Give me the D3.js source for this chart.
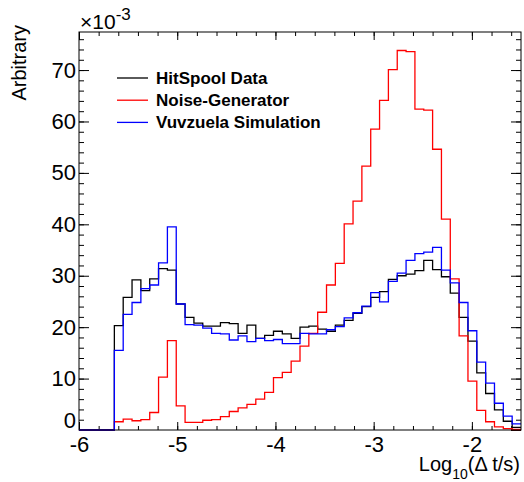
<!DOCTYPE html>
<html>
<head>
<meta charset="utf-8">
<script src="https://cdn.jsdelivr.net/npm/d3@7"></script>
<style>
  body { margin: 0; background: #fff; }
  text { font-family: "Liberation Sans", Arial, Helvetica, sans-serif; }
</style>
</head>
<body>
<script>
// 50 equal bins in log10(dt/s), from -6 to -1.5
const binLow = -6;
const binHigh = -1.5;
const nBins = 50;

// bin contents, in units of 1e-3
const hitspool = [0, 0, 0, 0, 20.3, 25.8, 29.2, 27.1, 29.4, 31.4,
  31.1, 24.5, 21.9, 20.8, 20.2, 20.2, 20.9, 20.7, 18.8, 20.4,
  17.8, 18.4, 19.2, 18.7, 17.8, 20.0, 20.2, 19.6, 19.2, 20.4,
  21.3, 22.7, 24.0, 25.8, 26.9, 29.3, 30.0, 30.3, 31.0, 33.0,
  31.2, 29.8, 26.6, 21.9, 17.3, 11.1, 7.1, 3.9, 1.7, 0.5];

const noiseGen = [0, 0, 0, 0, 1.6, 2.1, 1.8, 2.0, 3.4, 10.3,
  17.4, 4.7, 1.5, 1.5, 1.9, 2.0, 2.6, 3.6, 4.3, 5.0,
  6.0, 7.3, 10.2, 11.2, 13.4, 16.3, 18.8, 22.9, 28.2, 32.4,
  40.1, 44.5, 51.3, 58.5, 64.1, 70.1, 73.8, 73.6, 62.4, 62.2,
  54.6, 41.0, 29.4, 18.3, 9.5, 3.8, 1.6, 0.6, 0.25, 0.1];

const vuvzuela = [0, 0, 0, 0, 15.5, 22.5, 24.8, 27.5, 28.2, 32.5,
  39.5, 24.5, 20.5, 20.4, 19.8, 18.8, 18.7, 17.5, 18.3, 17.2,
  17.8, 17.4, 17.6, 16.8, 16.8, 18.8, 18.7, 18.7, 19.5, 20.1,
  21.8, 22.8, 24.1, 26.7, 24.9, 28.9, 30.5, 33.0, 34.3, 34.6,
  35.5, 31.1, 28.6, 24.8, 19.3, 13.2, 9.1, 5.2, 2.7, 1.2];

const seriesNames = ["HitSpool Data", "Noise-Generator", "Vuvzuela Simulation"];
const seriesColors = ["#000000", "#ff0000", "#0000ff"];

const xMajor = [-6, -5, -4, -3, -2];
const yMajor = [0, 10, 20, 30, 40, 50, 60, 70];

const width = 524, height = 482;
const marginLeft = 79, frameRight = 521, marginTop = 32, frameBottom = 430;
const yMax = 77.4;

const svg = d3.select("body").append("svg")
    .attr("width", width)
    .attr("height", height);

const x = d3.scaleLinear([binLow, binHigh], [marginLeft, frameRight]);
const y = d3.scaleLinear([0, yMax], [frameBottom, marginTop]);

const binWidth = (binHigh - binLow) / nBins;
const edges = d3.range(nBins + 1).map(i => binLow + i * binWidth);
const xMinor = d3.range(0, 23).map(i => binLow + i * 0.2);
const yMinor = d3.range(0, 39).map(i => i * 2);

// axes (ticks point inward, ROOT style)
function clean(g) { g.select(".domain").remove(); g.selectAll("line").attr("stroke", "#000"); }

svg.append("g").attr("transform", `translate(0,${frameBottom})`)
    .call(d3.axisBottom(x).tickValues(xMinor).tickSize(-4).tickFormat(""))
    .call(clean);
svg.append("g").attr("transform", `translate(0,${frameBottom})`)
    .call(d3.axisBottom(x).tickValues(xMajor).tickSize(-8).tickPadding(6).tickFormat(d => String(d)))
    .call(clean)
    .call(g => g.selectAll("text").attr("font-size", 22).attr("fill", "#000").attr("font-family", null));
svg.append("g").attr("transform", `translate(0,${marginTop})`)
    .call(d3.axisTop(x).tickValues(xMinor).tickSize(-4).tickFormat(""))
    .call(clean);
svg.append("g").attr("transform", `translate(0,${marginTop})`)
    .call(d3.axisTop(x).tickValues(xMajor).tickSize(-8).tickFormat(""))
    .call(clean);

svg.append("g").attr("transform", `translate(${marginLeft},0)`)
    .call(d3.axisLeft(y).tickValues(yMinor).tickSize(-5).tickFormat(""))
    .call(clean);
svg.append("g").attr("transform", `translate(${marginLeft},0)`)
    .call(d3.axisLeft(y).tickValues(yMajor).tickSize(-10).tickPadding(3).tickFormat(d => String(d)))
    .call(clean)
    .call(g => g.selectAll("text").attr("font-size", 22).attr("fill", "#000").attr("font-family", null)
        .filter(d => d === 0).attr("dy", "-0.12em"));
svg.append("g").attr("transform", `translate(${frameRight},0)`)
    .call(d3.axisRight(y).tickValues(yMinor).tickSize(-5).tickFormat(""))
    .call(clean);
svg.append("g").attr("transform", `translate(${frameRight},0)`)
    .call(d3.axisRight(y).tickValues(yMajor).tickSize(-10).tickFormat(""))
    .call(clean);

// histograms
const step = d3.line()
    .x(d => x(d[0]))
    .y(d => y(d[1]))
    .curve(d3.curveStepAfter);

function points(vals) {
  const p = vals.map((v, i) => [edges[i], v]);
  p.push([edges[nBins], vals[nBins - 1]]);
  return p;
}

[hitspool, noiseGen, vuvzuela].forEach((vals, i) => {
  svg.append("path")
      .attr("d", step(points(vals)))
      .attr("fill", "none")
      .attr("stroke", seriesColors[i])
      .attr("stroke-width", 1.3);
});

// frame
svg.append("rect")
    .attr("x", marginLeft).attr("y", marginTop)
    .attr("width", frameRight - marginLeft).attr("height", frameBottom - marginTop)
    .attr("fill", "none").attr("stroke", "#000").attr("stroke-width", 1);

// legend
const legend = svg.append("g");
seriesNames.forEach((name, i) => {
  const ly = 78 + i * 22.2;
  legend.append("line")
      .attr("x1", 117).attr("x2", 148)
      .attr("y1", ly).attr("y2", ly)
      .attr("stroke", seriesColors[i]).attr("stroke-width", 1.3);
  legend.append("text")
      .attr("x", 156).attr("y", ly + 5.5)
      .attr("font-size", 17).attr("font-weight", "bold")
      .text(name);
});

// exponent label
const expo = svg.append("text").attr("x", 80).attr("y", 29).attr("font-size", 21);
expo.append("tspan").text("\u00d710");
expo.append("tspan").attr("dy", -9).attr("font-size", 17).text("-3");

// axis titles
svg.append("text")
    .attr("transform", "translate(26,25) rotate(-90)")
    .attr("text-anchor", "end")
    .attr("font-size", 20)
    .text("Arbitrary");

const xt = svg.append("text")
    .attr("x", 520).attr("y", 471)
    .attr("text-anchor", "end")
    .attr("font-size", 20);
xt.append("tspan").text("Log");
xt.append("tspan").attr("dy", 8).attr("font-size", 14).text("10");
xt.append("tspan").attr("dy", -8).text("(\u0394 t/s)");
</script>
</body>
</html>
